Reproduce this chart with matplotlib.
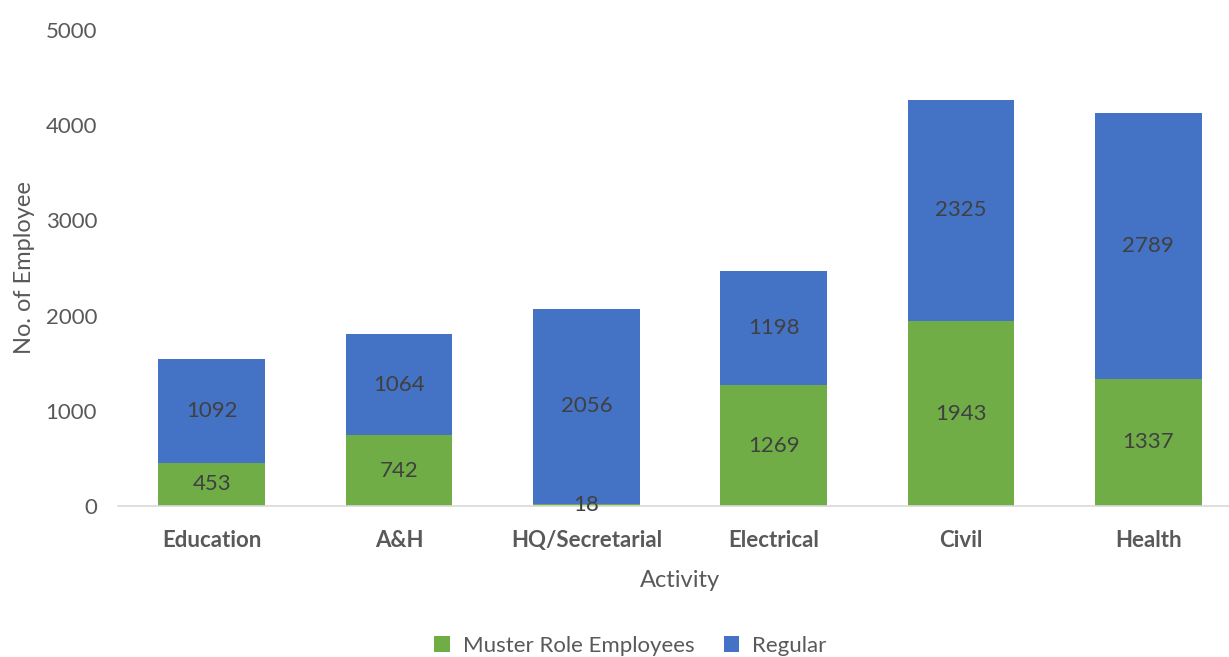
import matplotlib
matplotlib.use("Agg")
import matplotlib.pyplot as plt
import numpy as np

plt.rcParams['font.family'] = ['Lato', 'DejaVu Sans']

activities = ['Education', 'A&H', 'HQ/Secretarial', 'Electrical', 'Civil', 'Health']
muster_role = [453, 742, 18, 1269, 1943, 1337]
regular = [1092, 1064, 2056, 1198, 2325, 2789]

green = '#70AD47'
blue = '#4472C4'
tick_color = '#595959'
label_color = '#404040'

fig = plt.figure(figsize=(12.29, 6.57), dpi=100)
ax = fig.add_axes([0.096, 0.2298, 0.9146, 0.7245])

x = np.arange(len(activities))
width = 0.57
bars_m = ax.bar(x, muster_role, width, color=green, label='Muster Role Employees')
bars_r = ax.bar(x, regular, width, bottom=muster_role, color=blue, label='Regular')

# value labels centred in each segment
for i, (m, r) in enumerate(zip(muster_role, regular)):
    ax.text(x[i], m / 2, str(m), ha='center', va='center', fontsize=16, color=label_color)
    ax.text(x[i], m + r / 2, str(r), ha='center', va='center', fontsize=16, color=label_color)

ax.set_xlim(-0.5, len(activities) - 0.5)
ax.set_ylim(0, 5000)
ax.set_yticks(range(0, 5001, 1000))
ax.set_xticks(x)
ax.set_xticklabels(activities, fontweight='bold')
ax.tick_params(axis='both', length=0, labelsize=16, colors=tick_color)
ax.tick_params(axis='x', pad=17)
ax.tick_params(axis='y', pad=15)

for side in ['top', 'right', 'left']:
    ax.spines[side].set_visible(False)
ax.spines['bottom'].set_color('#D9D9D9')
ax.spines['bottom'].set_linewidth(1.2)

ax.set_xlabel('Activity', fontsize=17, color=tick_color, labelpad=14)
ax.set_ylabel('No. of Employee', fontsize=17, color=tick_color, labelpad=8)

fig.legend(handles=[bars_m, bars_r], loc='center', bbox_to_anchor=(0.513, 0.017),
           ncol=2, frameon=False, fontsize=16, labelcolor=tick_color,
           handlelength=0.7, handleheight=0.7, columnspacing=1.3, handletextpad=0.6)

fig.savefig('out.png', dpi=100)
